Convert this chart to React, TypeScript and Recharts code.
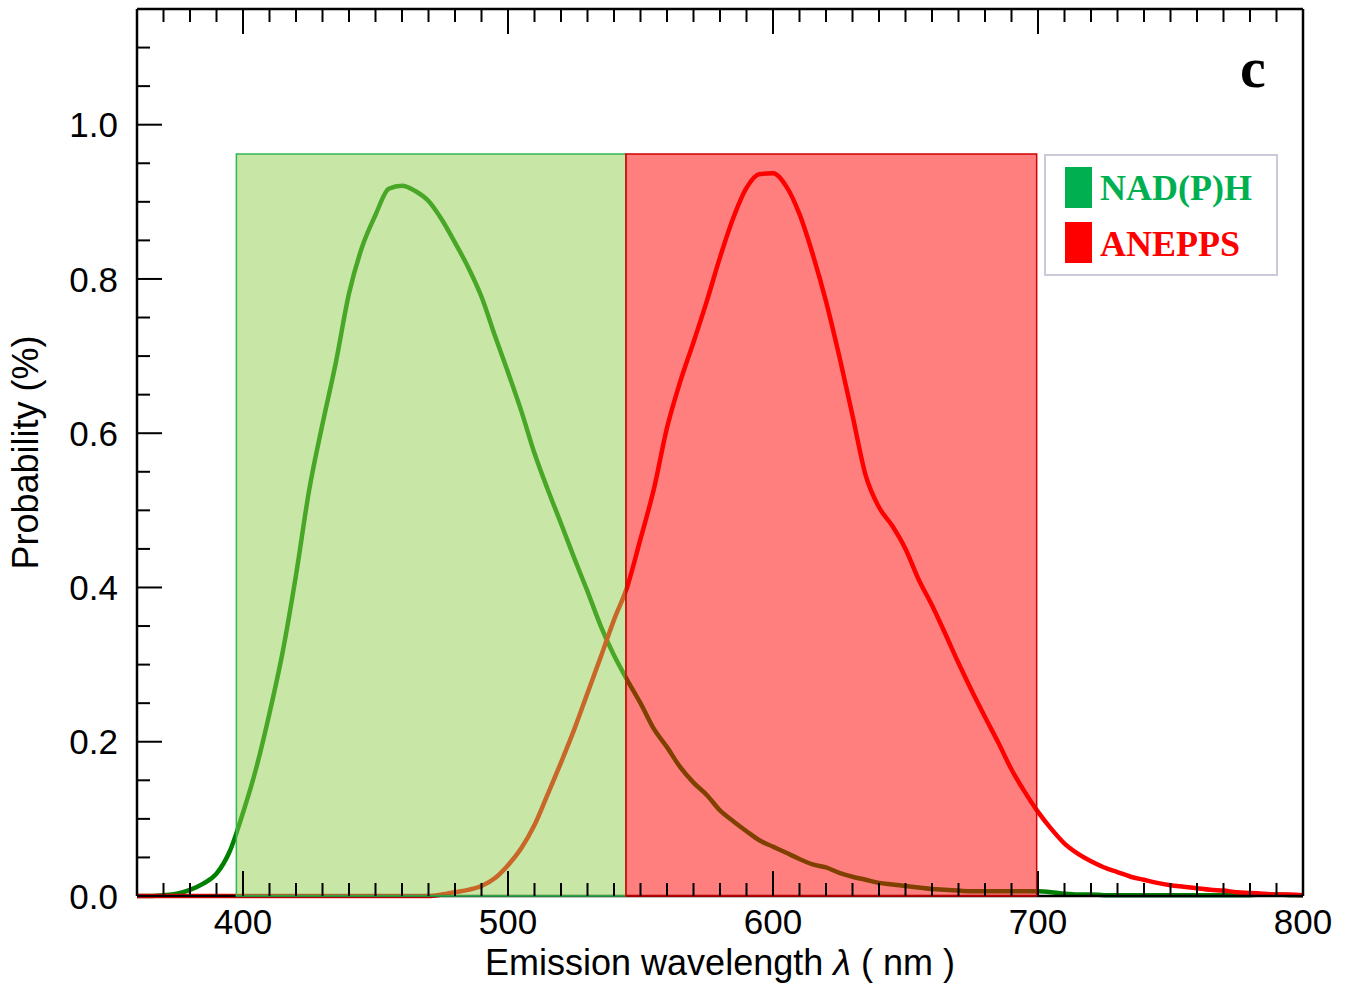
import React from "react";
import { LineChart, Line, XAxis, YAxis, ReferenceArea, Legend, Label } from "recharts";

// emission wavelength grid (nm)
const wavelengths = [
  360, 365, 370, 375, 380, 385, 390, 395, 400, 405,
  410, 415, 420, 425, 430, 435, 440, 445, 450, 455,
  460, 465, 470, 475, 480, 485, 490, 495, 500, 505,
  510, 515, 520, 525, 530, 535, 540, 545, 550, 555,
  560, 565, 570, 575, 580, 585, 590, 595, 600, 605,
  610, 615, 620, 625, 630, 635, 640, 645, 650, 655,
  660, 665, 670, 675, 680, 685, 690, 695, 700, 705,
  710, 715, 720, 725, 730, 735, 740, 745, 750, 755,
  760, 765, 770, 775, 780, 785, 790, 795, 800,
];

const nadphValues = [
  0, 0, 0.001, 0.003, 0.008, 0.016, 0.029, 0.058, 0.108, 0.166,
  0.237, 0.317, 0.416, 0.527, 0.612, 0.691, 0.781, 0.842, 0.883, 0.917,
  0.921, 0.914, 0.901, 0.877, 0.847, 0.815, 0.777, 0.727, 0.679, 0.629,
  0.574, 0.527, 0.483, 0.438, 0.395, 0.35, 0.312, 0.28, 0.25, 0.217,
  0.193, 0.167, 0.147, 0.131, 0.111, 0.097, 0.084, 0.072, 0.064, 0.056,
  0.048, 0.041, 0.037, 0.03, 0.025, 0.021, 0.017, 0.015, 0.013, 0.011,
  0.009, 0.008, 0.007, 0.006, 0.006, 0.006, 0.006, 0.006, 0.006, 0.005,
  0.003, 0.002, 0.002, 0.001, 0.001, 0.001, 0.001, 0.001, 0.001, 0.001,
  0.001, 0.001, 0.001, 0.001, 0.001, 0.002, 0.002, 0.001, 0.001,
];

const aneppsValues = [
  0, 0, 0, 0, 0, 0, 0, 0, 0, 0,
  0, 0, 0, 0, 0, 0, 0, 0, 0, 0,
  0, 0, 0, 0.002, 0.005, 0.008, 0.013, 0.023, 0.04, 0.062,
  0.092, 0.132, 0.173, 0.216, 0.263, 0.31, 0.358, 0.401, 0.463, 0.527,
  0.607, 0.667, 0.718, 0.771, 0.828, 0.879, 0.918, 0.936, 0.937, 0.92,
  0.884, 0.832, 0.771, 0.7, 0.623, 0.545, 0.504, 0.48, 0.45, 0.41,
  0.377, 0.34, 0.302, 0.266, 0.232, 0.199, 0.164, 0.135, 0.109, 0.087,
  0.068, 0.055, 0.045, 0.037, 0.031, 0.025, 0.021, 0.017, 0.014, 0.012,
  0.01, 0.008, 0.007, 0.005, 0.004, 0.003, 0.002, 0.002, 0.001,
];

const xTicks = [
  360, 370, 380, 390, 400, 410, 420, 430, 440, 450, 460, 470, 480, 490, 500,
  510, 520, 530, 540, 550, 560, 570, 580, 590, 600, 610, 620, 630, 640, 650,
  660, 670, 680, 690, 700, 710, 720, 730, 740, 750, 760, 770, 780, 790, 800,
];
const yTicks = [
  0, 0.05, 0.1, 0.15, 0.2, 0.25, 0.3, 0.35, 0.4, 0.45, 0.5, 0.55,
  0.6, 0.65, 0.7, 0.75, 0.8, 0.85, 0.9, 0.95, 1.0, 1.05, 1.1,
];

// detection bands
const nadphBand = [397.5, 544.5];
const aneppsBand = [544.5, 699.5];
const bandTop = 0.962;

const legendOrder = ["nadph", "anepps"];
const legendColors: Record<string, string> = { nadph: "#00b050", anepps: "#ff0000" };

const data = wavelengths.map((wl, i) => ({
  wl,
  nadph: nadphValues[i],
  anepps: aneppsValues[i],
}));

const sans = "'Liberation Sans', Arial, Helvetica, sans-serif";
const serif = "'Liberation Serif', 'Times New Roman', serif";

const isMajorX = (v: number) => v % 100 === 0;
const isMajorY = (v: number) => Math.abs(v * 5 - Math.round(v * 5)) < 1e-6;

function BottomTick(props: any) {
  const { x, y, payload } = props;
  const major = isMajorX(payload.value);
  return (
    <g>
      <line x1={x} y1={y} x2={x} y2={y - (major ? 25 : 13)} stroke="#000" strokeWidth={2} />
      {major && (
        <text x={x} y={y + 38} textAnchor="middle" fontFamily={sans} fontSize={35} fill="#000">
          {payload.value}
        </text>
      )}
    </g>
  );
}

function TopTick(props: any) {
  const { x, y, payload } = props;
  const major = isMajorX(payload.value);
  return <line x1={x} y1={y} x2={x} y2={y + (major ? 25 : 13)} stroke="#000" strokeWidth={2} />;
}

function LeftTick(props: any) {
  const { x, y, payload } = props;
  const major = isMajorY(payload.value);
  return (
    <g>
      <line x1={x} y1={y} x2={x + (major ? 25 : 13)} y2={y} stroke="#000" strokeWidth={2} />
      {major && (
        <text x={x - 19} y={y} dy="0.36em" textAnchor="end" fontFamily={sans} fontSize={35} fill="#000">
          {payload.value.toFixed(1)}
        </text>
      )}
    </g>
  );
}

function RightTick(props: any) {
  const { x, y, payload } = props;
  const major = isMajorY(payload.value);
  return <line x1={x} y1={y} x2={x - (major ? 25 : 13)} y2={y} stroke="#000" strokeWidth={2} />;
}

function renderLegend(props: any) {
  const items = [...(props.payload || [])].sort(
    (a: any, b: any) => legendOrder.indexOf(a.dataKey) - legendOrder.indexOf(b.dataKey)
  );
  return (
    <svg width={234} height={122} style={{ display: "block" }}>
      <rect x={1} y={1} width={232} height={120} fill="#fff" stroke="#cacad8" strokeWidth={2} />
      {items.map((item: any, i: number) => {
        const color = legendColors[item.dataKey] || item.color;
        return (
          <g key={item.value}>
            <rect x={21} y={13 + i * 55} width={27} height={41} fill={color} />
            <text x={56} y={46 + i * 56} fontFamily={serif} fontWeight="bold" fontSize={36} fill={color}>
              {item.value}
            </text>
          </g>
        );
      })}
    </svg>
  );
}

export default function App() {
  return (
    <div style={{ position: "absolute", left: 0, top: 0, width: 1355, height: 989, background: "#fff" }}>
      <LineChart
        width={1355}
        height={989}
        data={data}
        margin={{ top: 8, right: 51, bottom: 0, left: 0 }}
      >
        <XAxis
          dataKey="wl"
          type="number"
          domain={[360, 800]}
          ticks={xTicks}
          interval={0}
          height={93}
          tickSize={0}
          tickMargin={0}
          tickLine={false}
          axisLine={{ stroke: "#000", strokeWidth: 2.5 }}
          tick={<BottomTick />}
        >
          <Label
            content={(p: any) => {
              const vb = p.viewBox || {};
              return (
                <text
                  x={vb.x + vb.width / 2}
                  y={vb.y + 79}
                  textAnchor="middle"
                  fontFamily={sans}
                  fontSize={36}
                  fill="#000"
                >
                  Emission wavelength <tspan fontStyle="italic">λ</tspan> ( nm )
                </text>
              );
            }}
          />
        </XAxis>
        <XAxis
          xAxisId="top"
          orientation="top"
          dataKey="wl"
          type="number"
          domain={[360, 800]}
          ticks={xTicks}
          interval={0}
          height={1}
          tickSize={0}
          tickMargin={0}
          tickLine={false}
          axisLine={{ stroke: "#000", strokeWidth: 2.5 }}
          tick={<TopTick />}
        />
        <YAxis
          type="number"
          domain={[0, 1.15]}
          ticks={yTicks}
          interval={0}
          width={137}
          tickSize={0}
          tickMargin={0}
          tickLine={false}
          axisLine={{ stroke: "#000", strokeWidth: 2.5 }}
          tick={<LeftTick />}
        >
          <Label
            content={(p: any) => {
              const vb = p.viewBox || {};
              const cx = vb.x + 38;
              const cy = vb.y + vb.height / 2;
              return (
                <text
                  x={cx}
                  y={cy}
                  textAnchor="middle"
                  transform={`rotate(-90 ${cx} ${cy})`}
                  fontFamily={sans}
                  fontSize={36}
                  fill="#000"
                >
                  Probability (%)
                </text>
              );
            }}
          />
        </YAxis>
        <YAxis
          yAxisId="right"
          orientation="right"
          type="number"
          domain={[0, 1.15]}
          ticks={yTicks}
          interval={0}
          width={1}
          tickSize={0}
          tickMargin={0}
          tickLine={false}
          axisLine={{ stroke: "#000", strokeWidth: 2.5 }}
          tick={<RightTick />}
        />
        <Line
          dataKey="nadph"
          name="NAD(P)H"
          type="monotone"
          stroke="#008000"
          strokeWidth={4.5}
          dot={false}
          activeDot={false}
          isAnimationActive={false}
        />
        <Line
          dataKey="anepps"
          name="ANEPPS"
          type="monotone"
          stroke="#ff0000"
          strokeWidth={4.5}
          dot={false}
          activeDot={false}
          isAnimationActive={false}
        />
        <ReferenceArea
          x1={nadphBand[0]}
          x2={nadphBand[1]}
          y1={0}
          y2={bandTop}
          fill="#91cd4d"
          fillOpacity={0.5}
          stroke="#2cb850"
          strokeWidth={1.5}
          strokeOpacity={1}
          ifOverflow="visible"
          zIndex={600}
        />
        <ReferenceArea
          x1={aneppsBand[0]}
          x2={aneppsBand[1]}
          y1={0}
          y2={bandTop}
          fill="#ff0000"
          fillOpacity={0.5}
          stroke="#d40000"
          strokeWidth={1.5}
          strokeOpacity={1}
          ifOverflow="visible"
          zIndex={600}
        />
        <Legend
          layout="vertical"
          align="center"
          verticalAlign="middle"
          wrapperStyle={{ left: 1044, top: 154, width: 234, height: 122 }}
          content={renderLegend}
        />
      </LineChart>
      <svg
        width={70}
        height={80}
        style={{ position: "absolute", left: 1225, top: 20, pointerEvents: "none" }}
      >
        <text x={15} y={67} fontFamily={serif} fontWeight="bold" fontSize={58} fill="#000">
          c
        </text>
      </svg>
    </div>
  );
}
